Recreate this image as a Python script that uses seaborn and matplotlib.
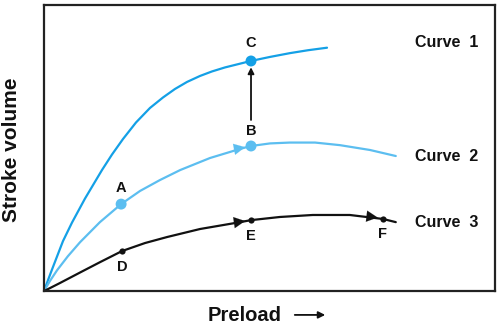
import matplotlib
matplotlib.use("Agg")
import matplotlib.pyplot as plt
import seaborn as sns
import pandas as pd

# Frank-Starling curves: stroke volume against preload (arbitrary units)
curve1_x = [0, 0.089, 0.177, 0.288, 0.421, 0.621, 0.909, 1.286, 1.508, 1.752,
            2.040, 2.350, 2.639, 2.905, 3.171, 3.459, 3.725, 4.013, 4.590,
            5.011, 5.455, 5.854, 6.275]
curve1_y = [0, 0.385, 0.752, 1.206, 1.748, 2.395, 3.234, 4.231, 4.773, 5.315,
            5.892, 6.399, 6.766, 7.063, 7.308, 7.517, 7.675, 7.815, 8.042,
            8.182, 8.315, 8.416, 8.504]

curve2_x = [0, 0.13, 0.29, 0.53, 0.80, 1.24, 1.71, 2.13, 2.57, 3.02, 3.68,
            4.35, 4.59, 5.01, 5.45, 6.01, 6.56, 7.23, 7.80]
curve2_y = [0, 0.35, 0.73, 1.22, 1.71, 2.41, 3.04, 3.50, 3.88, 4.23, 4.65,
            4.97, 5.07, 5.16, 5.19, 5.19, 5.10, 4.93, 4.72]

curve3_x = [0, 0.35, 0.86, 1.24, 1.73, 2.24, 2.73, 3.46, 4.35, 4.59, 5.23,
            5.96, 6.78, 7.52, 7.80]
curve3_y = [0, 0.28, 0.70, 1.01, 1.40, 1.68, 1.89, 2.17, 2.41, 2.48, 2.59,
            2.66, 2.66, 2.52, 2.41]

big_points = ["A", "B", "C"]
big_x = [1.71, 4.59, 4.59]
big_y = [3.04, 5.07, 8.04]

small_points = ["D", "E", "F"]
small_x = [1.73, 4.59, 7.52]
small_y = [1.40, 2.48, 2.52]

curve_names = ["Curve  1", "Curve  2", "Curve  3"]
curve_label_y = [8.67, 4.72, 2.41]

DARK_BLUE = "#14a0e6"
LIGHT_BLUE = "#5cbef0"
BLACK = "#111111"

sns.set_style("white")
plt.rcParams["font.family"] = ["Liberation Sans", "DejaVu Sans"]

fig = plt.figure(figsize=(5.0, 3.26), dpi=100)
ax = fig.add_axes([0.088, 0.107, 0.902, 0.878])

curves = [
    (curve1_x, curve1_y, DARK_BLUE),
    (curve2_x, curve2_y, LIGHT_BLUE),
    (curve3_x, curve3_y, BLACK),
]
for xs, ys, color in curves:
    df = pd.DataFrame({"preload": xs, "sv": ys})
    sns.lineplot(data=df, x="preload", y="sv", color=color, lw=1.6,
                 sort=False, ax=ax, solid_capstyle="round",
                 solid_joinstyle="round")

# large dots on curves 1 and 2
big_colors = [LIGHT_BLUE, LIGHT_BLUE, DARK_BLUE]
sns.scatterplot(x=big_x, y=big_y, hue=big_points, palette=big_colors,
                s=62, linewidth=0, legend=False, ax=ax, zorder=5)
# small dots on curve 3
sns.scatterplot(x=small_x, y=small_y, color=BLACK, s=20, linewidth=0,
                legend=False, ax=ax, zorder=5)

# direction arrowheads along the curves
def head(tip, tail, color):
    ax.annotate("", xy=tip, xytext=tail,
                arrowprops=dict(arrowstyle="-|>", color=color, lw=0.1,
                                mutation_scale=20, shrinkA=0, shrinkB=0))

head((4.46, 5.03), (4.20, 4.95), LIGHT_BLUE)
head((4.46, 2.45), (4.20, 2.39), BLACK)
head((7.40, 2.57), (7.14, 2.62), BLACK)

# vertical shift from B to C
ax.annotate("", xy=(big_x[2], 7.82), xytext=(big_x[1], 5.98),
            arrowprops=dict(arrowstyle="-|>", color=BLACK, lw=1.3,
                            mutation_scale=9, shrinkA=0, shrinkB=0))

# point letters
label_font = dict(fontsize=10.5, fontweight="bold", color="#111111",
                  ha="center", va="center")
ax.text(big_x[0], 3.62, big_points[0], **label_font)
ax.text(big_x[1], 5.58, big_points[1], **label_font)
ax.text(big_x[2], 8.66, big_points[2], **label_font)
ax.text(small_x[0], 0.84, small_points[0], **label_font)
ax.text(small_x[1], 1.92, small_points[1], **label_font)
ax.text(small_x[2] - 0.02, 1.98, small_points[2], **label_font)

for name, yy in zip(curve_names, curve_label_y):
    ax.text(8.22, yy, name, fontsize=11.5, fontweight="bold", color="#111111",
            ha="left", va="center")

ax.set_xlim(0, 10)
ax.set_ylim(0, 10)
ax.set_xticks([])
ax.set_yticks([])
ax.set_xlabel("")
ax.set_ylabel("")
for side in ["left", "bottom", "right", "top"]:
    ax.spines[side].set_visible(True)
    ax.spines[side].set_color("#222222")
    ax.spines[side].set_linewidth(1.6)

fig.text(0.49, 0.031, "Preload", fontsize=14.5, fontweight="bold",
         color="#111111", ha="center", va="center")
fig.add_artist(matplotlib.patches.FancyArrowPatch(
    (0.584, 0.034), (0.656, 0.034), transform=fig.transFigure,
    arrowstyle="-|>", mutation_scale=10, color="#111111", lw=1.3))
fig.text(0.024, 0.54, "Stroke volume", fontsize=15, fontweight="bold",
         color="#111111", ha="center", va="center", rotation=90)

fig.savefig("out.png", dpi=100, facecolor="white")
